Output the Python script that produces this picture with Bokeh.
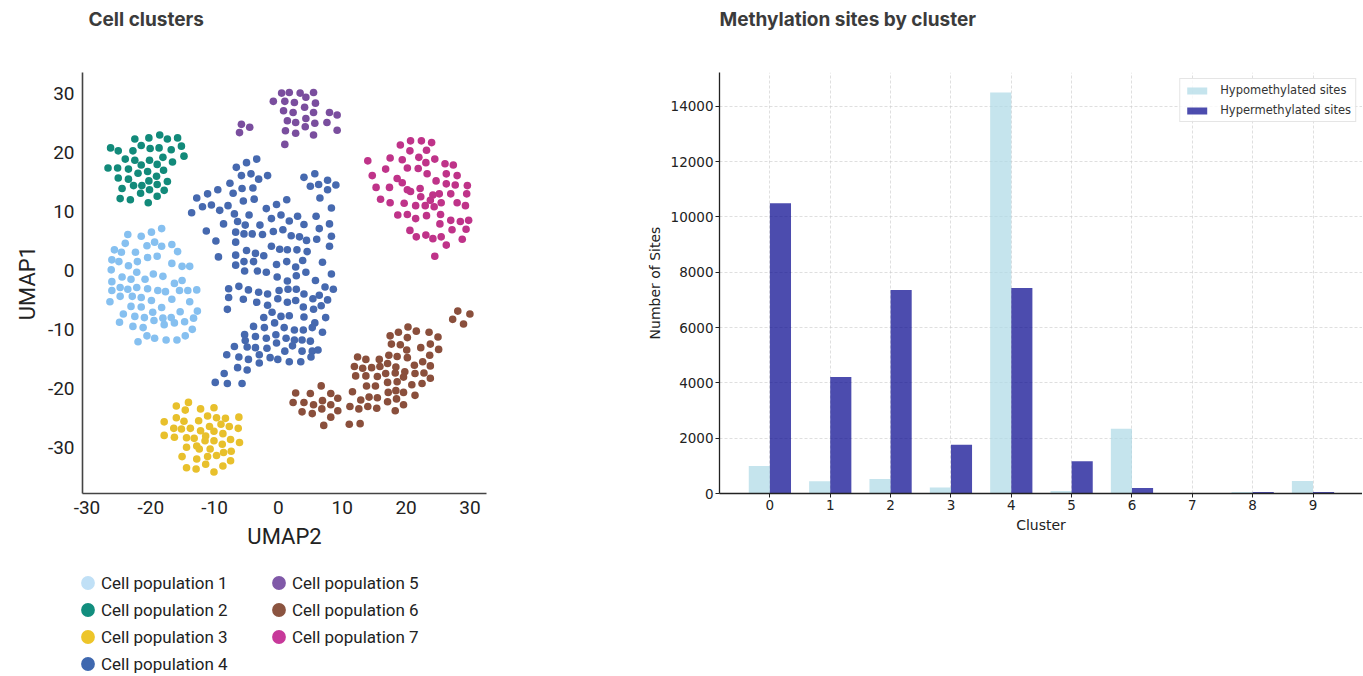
from bokeh.plotting import figure
from bokeh.models import Range1d, FixedTicker, Legend, LegendItem, ColumnDataSource, Title
from bokeh.transform import dodge
from bokeh.layouts import row, column
from bokeh.embed import file_html
from bokeh.resources import INLINE

# ---------------- data: UMAP embedding (UMAP2 on x, UMAP1 on y) ----------------
POP1 = [(-18.3,7.1),(-19.9,6.5),(-21.5,5.8),(-23.6,6.1),(-24.0,4.6),(-25.7,3.5),(-26.1,1.8),(-24.6,3.1),
        (-22.4,3.1),(-20.6,4.2),(-19.4,4.8),(-18.3,4.1),(-16.7,4.4),(-15.8,3.2),(-20.5,2.2),(-19.0,2.4),
        (-22.1,1.5),(-23.5,0.8),(-25.0,1.5),(-26.2,0.1),(-26.1,-1.9),(-24.5,-1.1),(-23.1,-1.5),(-22.2,-0.3),
        (-20.9,-1.5),(-19.6,-0.6),(-18.1,-1.0),(-16.7,1.2),(-15.1,0.7),(-13.9,0.7),(-15.1,-1.7),(-16.3,-2.2),
        (-17.7,-3.6),(-18.9,-3.4),(-20.5,-3.1),(-22.2,-2.9),(-23.6,-3.2),(-24.8,-2.9),(-26.1,-3.4),(-26.4,-5.3),
        (-24.8,-4.4),(-22.9,-4.4),(-21.5,-4.6),(-19.9,-5.1),(-18.3,-6.3),(-16.7,-4.9),(-15.5,-3.4),(-14.2,-3.4),
        (-12.8,-3.3),(-13.9,-5.3),(-12.7,-6.9),(-15.4,-7.0),(-16.8,-8.0),(-18.1,-8.1),(-19.7,-7.1),(-21.5,-6.2),
        (-23.1,-6.1),(-24.3,-7.4),(-22.5,-7.8),(-21.0,-8.0),(-24.9,-8.8),(-22.8,-9.5),(-21.2,-9.7),(-19.5,-8.5),
        (-17.9,-9.2),(-16.3,-8.9),(-14.7,-8.7),(-13.3,-8.1),(-13.5,-10.0),(-14.6,-11.1),(-15.9,-11.8),
        (-17.6,-11.8),(-19.4,-11.5),(-20.6,-11.1),(-22.0,-12.1)]

POP2 = [(-26.3,20.8),(-25.1,20.3),(-22.5,22.3),(-20.3,22.5),(-18.6,23.0),(-17.4,22.3),(-15.8,22.5),(-15.2,21.1),
        (-14.8,19.4),(-26.7,17.4),(-24.0,18.9),(-22.8,20.3),(-21.5,21.2),(-20.1,20.7),(-18.7,20.8),(-16.8,20.5),
        (-18.1,19.2),(-16.6,18.4),(-22.5,18.7),(-25.2,17.4),(-23.5,17.2),(-21.5,17.9),(-20.2,18.7),(-19.0,18.0),
        (-18.0,17.0),(-25.1,15.7),(-23.5,15.5),(-22.0,16.5),(-20.5,16.8),(-19.1,16.0),(-17.4,15.1),(-22.7,14.4),
        (-21.4,14.4),(-20.3,15.2),(-19.0,14.6),(-17.9,13.6),(-24.5,13.9),(-24.8,12.2),(-23.2,12.0),(-21.6,13.1),
        (-20.4,11.5),(-19.0,12.6),(-20.2,13.7)]

POP3 = [(-14.1,-22.4),(-16.0,-23.0),(-14.6,-23.7),(-12.2,-23.5),(-10.1,-23.3),(-17.9,-25.7),(-16.0,-25.0),
        (-14.8,-25.6),(-12.5,-25.5),(-11.1,-24.7),(-9.7,-25.0),(-8.3,-25.1),(-6.2,-24.9),(-16.4,-26.8),
        (-15.2,-26.9),(-13.8,-26.8),(-12.2,-27.2),(-10.8,-26.5),(-9.0,-26.1),(-7.7,-26.5),(-6.3,-26.8),
        (-17.9,-28.0),(-16.3,-28.3),(-14.4,-28.4),(-13.2,-28.5),(-11.4,-28.1),(-10.1,-27.3),(-8.7,-27.7),
        (-7.5,-28.7),(-6.1,-29.2),(-14.4,-30.0),(-12.8,-29.8),(-11.5,-28.9),(-10.1,-28.9),(-8.8,-29.5),
        (-12.4,-30.3),(-10.7,-30.3),(-15.1,-31.6),(-12.8,-32.0),(-11.1,-31.6),(-9.7,-31.4),(-8.6,-30.9),
        (-7.4,-30.7),(-14.4,-33.5),(-12.9,-33.7),(-11.4,-32.9),(-10.1,-34.2),(-8.7,-33.2),(-7.5,-32.3)]

POP4 = [(-3.4,18.9),(-5.0,18.3),(-6.6,17.5),(-5.8,16.1),(-4.3,16.4),(-3.1,15.5),(-1.7,16.1),(-7.6,14.8),
        (-5.7,13.9),(-4.0,14.0),(-9.5,13.7),(-11.1,13.0),(-12.8,12.3),(-11.9,10.8),(-10.5,11.1),(-9.2,10.2),
        (-7.9,11.0),(-13.6,9.8),(-7.1,13.1),(-5.5,11.8),(-3.8,12.1),(-6.9,9.6),(-4.6,9.4),(-6.4,8.3),
        (-5.2,7.7),(-8.6,7.9),(-11.3,6.7),(-6.7,6.5),(-5.4,6.2),(-4.1,6.2),(-2.9,7.7),(-1.9,10.5),
        (-0.3,11.2),(1.3,12.0),(-1.1,8.8),(0.4,9.4),(1.7,8.4),(3.0,9.2),(4.0,7.8),(5.9,9.2),
        (8.0,7.9),(6.4,7.1),(8.3,10.6),(6.5,12.3),(4.0,15.8),(5.7,16.4),(5.0,14.3),(6.3,14.6),
        (7.7,15.3),(9.0,14.5),(7.7,13.7),
        (-9.8,5.0),(-9.4,2.3),(-6.7,4.8),(-5.0,3.4),(-3.6,2.9),(-2.5,6.1),(-0.8,6.6),(0.7,6.9),
        (2.0,5.9),(3.3,5.7),(4.4,5.1),(6.0,5.3),(8.3,5.8),(8.0,4.1),(-6.7,2.6),(-5.4,1.5),
        (-3.9,1.5),(-2.3,2.5),(-1.1,4.1),(0.2,3.6),(1.4,3.5),(2.9,3.5),(4.5,3.2),(6.9,1.4),
        (8.3,-0.6),(-6.7,0.9),(-5.3,-0.1),(-3.3,-0.1),(-1.9,-0.3),(-0.3,1.0),(1.3,1.5),(2.7,0.6),
        (3.8,1.7),(-0.2,-1.1),(1.4,-1.8),(2.8,-0.9),(4.3,-0.3),(5.8,-1.7),(7.3,-2.8),(8.6,-3.2),
        (-7.8,-3.1),(-6.2,-2.7),(-4.7,-3.3),(-3.1,-3.7),(-1.7,-4.0),(0.1,-3.4),(1.5,-3.2),(2.8,-3.2),
        (4.0,-4.0),(5.4,-4.8),(6.4,-4.2),(7.7,-5.0),(-7.8,-4.6),(-5.5,-4.9),(-3.4,-5.4),(-1.7,-5.9),
        (-0.1,-4.8),(1.4,-5.4),(2.7,-5.1),(3.9,-6.2),(5.5,-6.6),(6.7,-6.0),(-8.0,-6.6),(-2.3,-8.0),
        (-1.0,-7.1),(0.4,-7.8),(1.7,-7.7),(4.0,-7.9),(5.7,-8.9),(7.4,-8.0),(-3.9,-9.5),(-2.2,-9.7),
        (-0.6,-8.9),(0.9,-9.7),(2.5,-10.1),(3.9,-10.1),(5.3,-9.7),(-5.3,-10.9),(-3.6,-11.2),(-1.9,-11.5),
        (-0.4,-10.9),(1.2,-11.5),(2.5,-11.8),(3.7,-11.8),(5.0,-12.0),(6.9,-10.5),(-5.2,-11.9),(-6.9,-12.9),
        (-4.9,-13.0),(-3.6,-13.1),(-1.8,-13.2),(-0.3,-12.3),(1.0,-13.7),(2.2,-12.8),(3.7,-13.7),(5.3,-13.7),
        (6.2,-13.5),(-8.1,-14.3),(-6.2,-14.7),(-4.7,-15.1),(-3.0,-14.3),(-1.3,-14.8),(-0.1,-15.1),(1.7,-15.5),
        (3.5,-15.5),(5.1,-14.7),(-6.4,-16.5),(-4.9,-16.9),(-3.0,-15.7),(-8.5,-17.5),(-9.9,-19.0),(-8.0,-19.2),
        (-5.7,-19.2)]

POP5 = [(0.5,30.1),(1.7,30.2),(3.4,30.1),(5.5,30.2),(-0.8,28.7),(1.0,28.7),(2.5,28.5),(4.3,29.4),
        (5.8,28.4),(0.8,27.1),(2.3,26.8),(4.1,27.7),(5.5,26.8),(8.0,26.8),(9.2,26.4),(1.4,25.4),
        (2.7,25.1),(4.3,25.8),(5.7,25.0),(7.6,25.1),(1.1,23.7),(2.7,23.3),(4.2,24.4),(5.5,23.0),
        (9.2,23.8),(1.0,21.4),(-5.8,24.8),(-4.5,24.3),(-6.1,23.4)]

POP6 = [(28.1,-6.9),(30.0,-7.4),(27.3,-8.3),(29.0,-9.1),(20.3,-9.6),(21.6,-10.3),(23.6,-10.5),(25.0,-11.3),
        (17.5,-11.1),(18.8,-10.5),(20.2,-11.4),(17.7,-12.5),(19.1,-12.6),(22.3,-13.1),(23.8,-12.5),(20.1,-13.5),
        (25.1,-13.4),(12.4,-14.7),(13.7,-15.1),(15.8,-15.1),(17.3,-14.4),(18.6,-14.6),(20.2,-14.8),(23.7,-14.4),
        (22.6,-15.5),(21.3,-16.1),(11.9,-16.3),(13.2,-16.6),(14.6,-16.5),(15.9,-16.3),(17.1,-15.8),(18.4,-16.4),
        (19.8,-17.2),(21.4,-17.5),(22.8,-17.4),(23.8,-16.2),(12.1,-17.9),(13.7,-17.9),(15.5,-18.0),(16.8,-17.5),
        (18.3,-17.4),(23.8,-18.3),(13.8,-19.6),(15.2,-19.6),(17.1,-19.0),(18.6,-18.9),(19.6,-18.1),(20.9,-19.4),
        (22.5,-19.2),(6.7,-19.6),(2.7,-20.8),(5.0,-20.9),(8.2,-20.9),(11.6,-20.6),(12.9,-22.0),(14.2,-21.5),
        (15.5,-21.6),(17.2,-20.7),(18.4,-20.4),(19.6,-20.7),(21.4,-21.2),(2.3,-22.4),(4.0,-22.4),(5.5,-22.8),
        (6.9,-22.1),(9.3,-21.7),(11.2,-23.1),(12.6,-23.5),(14.0,-23.1),(15.4,-23.4),(17.1,-22.3),(18.5,-21.8),
        (3.7,-24.0),(5.3,-24.3),(6.8,-23.5),(8.2,-22.8),(9.3,-23.8),(18.3,-23.8),(19.6,-22.8),(7.1,-26.3),
        (8.2,-24.9),(11.1,-26.1),(12.8,-26.0)]

POP7 = [(19.1,21.3),(20.7,22.0),(22.4,22.0),(24.0,21.7),(14.0,18.6),(17.5,19.1),(19.4,18.8),(20.6,20.3),
        (22.0,19.2),(23.2,20.4),(24.5,18.9),(14.7,16.1),(16.8,17.2),(18.6,15.6),(20.2,17.4),(21.9,17.3),
        (23.1,18.3),(26.1,18.1),(27.4,17.9),(15.3,14.1),(17.4,14.1),(19.4,14.9),(20.7,13.4),(22.2,13.9),
        (23.3,16.4),(24.7,15.2),(26.3,16.4),(28.0,16.1),(16.0,12.1),(17.5,11.5),(19.7,11.4),(20.2,13.7),
        (21.5,11.0),(23.0,11.0),(24.2,12.8),(25.2,13.0),(26.3,14.7),(27.7,14.5),(29.6,14.4),(18.7,9.4),
        (20.2,9.5),(21.5,8.8),(23.2,9.3),(24.4,10.8),(25.5,11.5),(27.0,13.0),(28.0,11.5),(29.3,11.0),
        (29.5,13.0),(20.6,6.8),(21.6,5.7),(23.1,6.0),(24.2,5.4),(25.3,7.9),(25.4,9.5),(27.0,8.5),
        (28.5,8.3),(29.8,8.5),(29.4,7.0),(25.5,5.7),(27.2,6.9),(28.8,5.3),(26.3,4.3),(24.5,2.4),
        (22.3,12.5),(23.8,11.9)]

POP_NAMES = ["Cell population 1", "Cell population 2", "Cell population 3", "Cell population 4",
             "Cell population 5", "Cell population 6", "Cell population 7"]
POP_POINTS = [POP1, POP2, POP3, POP4, POP5, POP6, POP7]
POP_COLORS = ["#86C0F0", "#128A7A", "#E8C02C", "#4669AF", "#7A4E9E", "#8A4F3C", "#BF3389"]
LEGEND_COLORS = ["#C0E0F6", "#128E7E", "#EDC52A", "#3F68AF", "#8059A8", "#8B5440", "#C7399A"]
UMAP_TICKS = [-30, -20, -10, 0, 10, 20, 30]

# ---------------- data: methylation sites per cluster ----------------
CLUSTERS = [0, 1, 2, 3, 4, 5, 6, 7, 8, 9]
HYPO = [990, 440, 520, 220, 14500, 90, 2340, 5, 50, 450]
HYPER = [10500, 4210, 7360, 1760, 7430, 1170, 200, 10, 55, 55]
SITE_TICKS = [0, 2000, 4000, 6000, 8000, 10000, 12000, 14000]

TITLE_FONT = "Inter"
TICK_FONT = "Roboto"


def add_title(p, text, offset):
    # spacer first (closest to the frame), then the visible title on top of it
    p.add_layout(Title(text=" ", text_font_size="1px", standoff=33), "above")
    p.add_layout(Title(text=text, text_font=TITLE_FONT, text_font_size="19px", text_font_style="bold",
                       text_color="#3b3b3b", offset=offset, vertical_align="top", standoff=8), "above")


# ================= left: scatter =================
p1 = figure(output_backend="svg", toolbar_location=None,
            frame_width=404, frame_height=421,
            min_border_left=82, min_border_right=154, min_border_top=72, min_border_bottom=70,
            x_range=Range1d(-30.7, 32.6), y_range=Range1d(-37.86, 33.6))
add_title(p1, "Cell clusters", 6)
p1.outline_line_color = None
p1.grid.visible = False
for ax in (p1.xaxis, p1.yaxis):
    ax.ticker = FixedTicker(ticks=UMAP_TICKS)
    ax.major_label_overrides = {t: str(t) for t in UMAP_TICKS}
    ax.axis_line_color = "#444444"
    ax.axis_line_width = 1.6
    ax.major_tick_line_color = None
    ax.minor_tick_line_color = None
    ax.major_label_text_font = TICK_FONT
    ax.major_label_text_font_size = "19px"
    ax.major_label_text_color = "#222222"
    ax.axis_label_text_font = TICK_FONT
    ax.axis_label_text_font_size = "22px"
    ax.axis_label_text_font_style = "normal"
    ax.axis_label_text_color = "#222222"
p1.xaxis.axis_label = "UMAP2"
p1.yaxis.axis_label = "UMAP1"
p1.xaxis.major_label_standoff = 1
p1.yaxis.major_label_standoff = 2
p1.xaxis.axis_label_standoff = 7
p1.yaxis.axis_label_standoff = 5

for pts, col in zip(POP_POINTS, POP_COLORS):
    xs = [a for a, b in pts]
    ys = [b for a, b in pts]
    p1.scatter(xs, ys, size=7.6, fill_color=col, line_color=None)

# ---- legend strip below the scatter (its data lie outside this strip's view) ----
pleg = figure(output_backend="svg", toolbar_location=None,
              frame_width=640, frame_height=113,
              min_border_left=0, min_border_right=0, min_border_top=0, min_border_bottom=0,
              x_axis_type=None, y_axis_type=None, x_range=Range1d(100, 101), y_range=Range1d(100, 101))
pleg.outline_line_color = None
pleg.grid.visible = False
legend_items = []
for name, pts, lcol in zip(POP_NAMES, POP_POINTS, LEGEND_COLORS):
    lr = pleg.scatter([a for a, b in pts], [b for a, b in pts], size=7.6,
                      fill_color=lcol, line_color=lcol, line_width=3)
    legend_items.append(LegendItem(label=name, renderers=[lr]))
leg1 = Legend(items=legend_items, orientation="vertical", nrows=4,
              location=(74, -1), glyph_width=27, glyph_height=27, spacing=0,
              label_standoff=0, label_width=164, label_height=20,
              label_text_font=TICK_FONT, label_text_font_size="17px", label_text_color="#222222",
              border_line_color=None, background_fill_alpha=0, padding=0, margin=0)
pleg.add_layout(leg1)

# ================= right: bars =================
src = ColumnDataSource(dict(cluster=CLUSTERS, hypo=HYPO, hyper=HYPER))
p2 = figure(output_backend="svg", toolbar_location=None,
            frame_width=643, frame_height=421,
            min_border_left=79, min_border_right=0, min_border_top=72, min_border_bottom=183,
            x_range=Range1d(-0.835, 9.82), y_range=Range1d(0, 15225))
add_title(p2, "Methylation sites by cluster", 0)
p2.outline_line_color = None

r_hypo = p2.vbar(x=dodge("cluster", -0.175, range=p2.x_range), top="hypo", width=0.35, source=src,
                 fill_color="lightblue", fill_alpha=0.7, line_color=None)
r_hyper = p2.vbar(x=dodge("cluster", 0.175, range=p2.x_range), top="hyper", width=0.35, source=src,
                  fill_color="darkblue", fill_alpha=0.7, line_color=None)

p2.xaxis.ticker = FixedTicker(ticks=CLUSTERS)
p2.yaxis.ticker = FixedTicker(ticks=SITE_TICKS)
p2.xgrid.ticker = FixedTicker(ticks=CLUSTERS)
for g in (p2.xgrid, p2.ygrid):
    g.grid_line_color = "#cccccc"
    g.grid_line_dash = "3 2"
    g.grid_line_width = 0.8
    g.grid_line_alpha = 0.8
for ax in (p2.xaxis, p2.yaxis):
    ax.axis_line_color = "#222222"
    ax.axis_line_width = 1.3
    ax.major_tick_line_color = "#222222"
    ax.major_tick_out = 4
    ax.major_tick_in = 0
    ax.minor_tick_line_color = None
    ax.major_label_text_font = "DejaVu Sans"
    ax.major_label_text_font_size = "13.5px"
    ax.major_label_text_color = "#222222"
    ax.major_label_standoff = 2
    ax.axis_label_text_font = "DejaVu Sans"
    ax.axis_label_text_font_size = "14px"
    ax.axis_label_text_font_style = "normal"
    ax.axis_label_text_color = "#222222"
p2.yaxis.formatter.use_scientific = False
p2.xaxis.axis_label = "Cluster"
p2.yaxis.axis_label = "Number of Sites"
p2.xaxis.axis_label_standoff = 4
p2.yaxis.axis_label_standoff = 5

leg2 = Legend(items=[LegendItem(label="Hypomethylated sites", renderers=[r_hypo]),
                     LegendItem(label="Hypermethylated sites", renderers=[r_hyper])],
              location="top_right", margin=6, padding=4, spacing=6,
              glyph_width=25, glyph_height=9, label_height=14, label_standoff=11,
              label_text_font="DejaVu Sans", label_text_font_size="11.5px", label_text_color="#333333",
              border_line_color="#cccccc", border_line_width=1,
              background_fill_color="white", background_fill_alpha=0.8)
p2.add_layout(leg2)

layout = row(column(p1, pleg), p2)
open("out.html", "w").write(file_html(layout, INLINE))
